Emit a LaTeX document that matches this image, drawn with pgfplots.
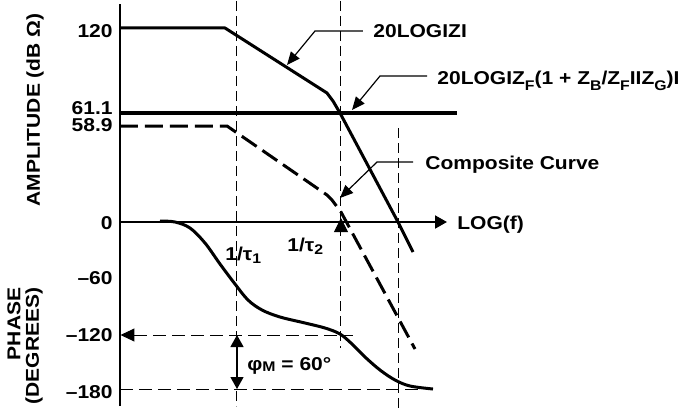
\documentclass[border=0pt]{standalone}
\usepackage{fontspec}
\setmainfont{Liberation Sans}[FakeStretch=1.13]
\usepackage{pgfplots}
\pgfplotsset{compat=1.18}
\usetikzlibrary{arrows.meta}
\newcommand\sub[2][-3pt]{\raisebox{#1}{\fontsize{7}{8}\selectfont #2}}
\begin{document}
\begin{tikzpicture}
\begin{axis}[
  scale only axis,
  width=283pt, height=201pt,
  xmin=120, xmax=686, ymin=-406, ymax=-4,
  axis x line=none, axis y line*=left,
  axis line style={line width=1pt, black},
  xtick=\empty,
  ytick={-31,-108,-125,-223,-278,-335,-392},
  yticklabels={120,61.1,58.9,0,--60,--120,--180},
  tick style={draw=none},
  yticklabel style={font=\bfseries\fontsize{9.3}{11}\selectfont, inner sep=0pt, xshift=-3.5pt},
  clip=false,
  every axis plot/.append style={black},
]
% bounding box of the whole picture
\path (axis cs:0,0) rectangle (axis cs:686,-410);

% dashed construction lines
\addplot[line width=0.5pt, dash pattern=on 5pt off 2.5pt] coordinates {(237,-1) (237,-406)};
\addplot[line width=0.5pt, dash pattern=on 5pt off 2.5pt] coordinates {(341,-1) (341,-348)};
\addplot[line width=0.5pt, dash pattern=on 5pt off 2.5pt] coordinates {(398,-128) (398,-410)};
\addplot[line width=0.5pt, dash pattern=on 6.5pt off 3pt, {Triangle[length=7pt,width=6.5pt]}-] coordinates {(120.5,-335) (353,-335)};
\addplot[line width=0.5pt, dash pattern=on 6.5pt off 3pt] coordinates {(120,-389) (420,-389)};

% 20 log |Z|
\addplot[line width=1.5pt, line join=round] coordinates {(120,-28) (225,-28) (327,-93) (333,-101) (340,-113) (398,-222) (413,-252)};
% 61.1 line
\addplot[line width=1.7pt] coordinates {(120,-113) (457,-113)};
% composite curve
\addplot[line width=1.5pt, dash pattern=on 9pt off 3.5pt] coordinates {(120,-126) (227,-126) (327,-195) (332,-200) (341,-212) (415,-349)};
% phase
\addplot[line width=1.5pt, smooth, tension=0.55] coordinates {
 (160,-221) (175,-222) (190,-228) (205,-243) (220,-264) (235,-284) (248,-300)
 (262,-310) (280,-317) (305,-323) (325,-328) (340,-334) (352,-344) (365,-357)
 (380,-370) (395,-380) (410,-386) (433,-389)};

% 0 axis with arrow
\addplot[line width=1pt, -{Triangle[length=6pt,width=6.5pt]}] coordinates {(120,-222) (447,-222)};
% up triangle on the axis
\addplot[line width=0.5pt, -{Triangle[length=7pt,width=7pt]}] coordinates {(341,-234) (341,-218)};
% phase margin double arrow
\addplot[line width=0.6pt, {Triangle[length=6pt,width=6.5pt]}-{Triangle[length=6pt,width=6.5pt]}] coordinates {(237,-335) (237,-389)};

% leader lines
\addplot[line width=0.6pt, -{Triangle[length=6.5pt,width=5.5pt]}] coordinates {(363,-31) (315,-31) (287,-65)};
\addplot[line width=0.6pt, -{Triangle[length=6.5pt,width=5.5pt]}] coordinates {(427,-76) (380,-76) (352,-110)};
\addplot[line width=0.6pt, -{Triangle[length=6.5pt,width=5.5pt]}] coordinates {(413,-162) (377,-162) (340,-198)};

% texts
\begin{scope}[every node/.style={font=\bfseries\fontsize{9.3}{11}\selectfont, inner sep=0pt}]
\node[anchor=base west] at (axis cs:373,-37.7) {20LOGIZI};
\node[anchor=base west] at (axis cs:437,-84) {20LOGIZ\sub{F}(1 + Z\sub{B}/Z\sub{F}IIZ\sub{G})I};
\node[anchor=base west] at (axis cs:425,-169.5) {Composite Curve};
\node[anchor=base west] at (axis cs:457,-229) {LOG(f)};
\node[anchor=base west] at (axis cs:225,-260) {1/τ\sub[-1.5pt]{1}};
\node[anchor=base west] at (axis cs:287,-251) {1/τ\sub[-1.5pt]{2}};
\node[anchor=base west] at (axis cs:247,-370) {φ\sub[-0.5pt]{M} = 60°};
\node[rotate=90, anchor=center] at (axis cs:35,-110) {AMPLITUDE (dB Ω)};
\node[rotate=90, anchor=center, align=right, font=\bfseries\fontsize{9.3}{9.3}\selectfont] at (axis cs:25,-346) {PHASE\\(DEGREES)};
\end{scope}
\end{axis}
\end{tikzpicture}
\end{document}
